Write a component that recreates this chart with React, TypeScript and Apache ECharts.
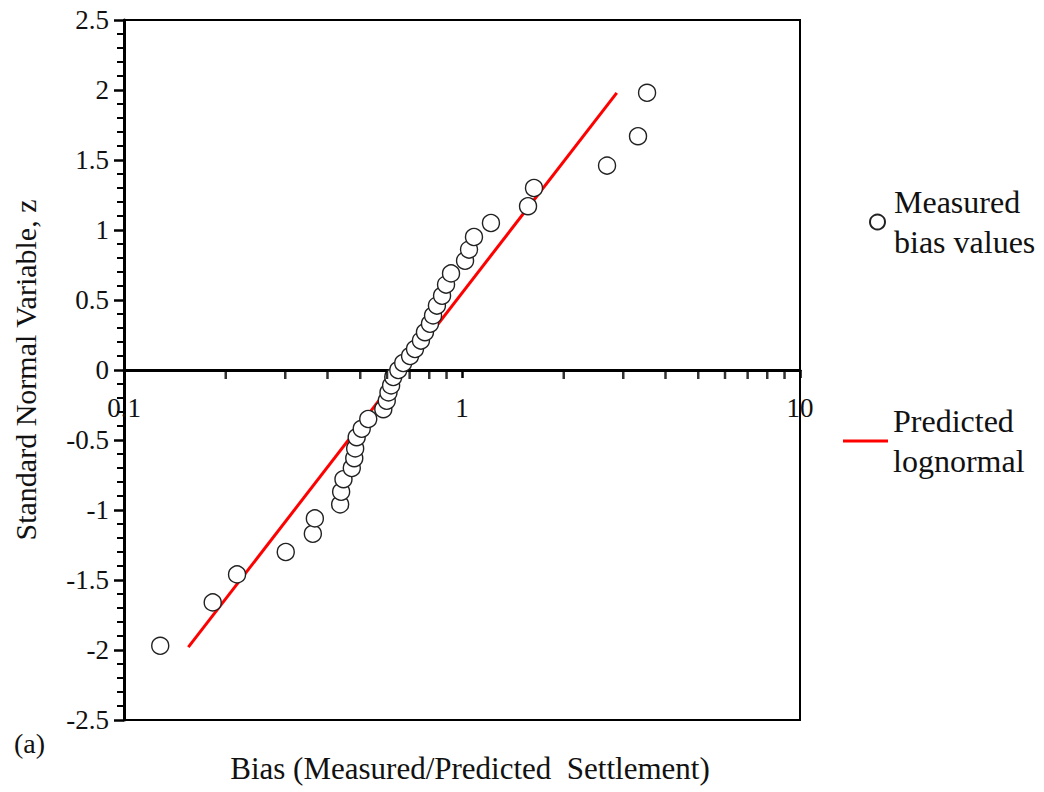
import React, { useEffect, useRef } from "react";
import * as echarts from "echarts";

// Measured bias values (x) and standard normal variable z (y)
const biasValues = [
  0.128, 0.183, 0.216, 0.301, 0.362, 0.367, 0.436, 0.439, 0.446, 0.472,
  0.480, 0.483, 0.488, 0.505, 0.528, 0.585, 0.599, 0.606, 0.617, 0.626,
  0.648, 0.670, 0.702, 0.726, 0.756, 0.777, 0.804, 0.821, 0.843, 0.873,
  0.897, 0.928, 1.021, 1.049, 1.085, 1.218, 1.568, 1.633, 2.686, 3.317,
  3.528,
];
const zValues = [
  -1.97, -1.66, -1.46, -1.30, -1.17, -1.06, -0.96, -0.87, -0.78, -0.70,
  -0.63, -0.56, -0.48, -0.42, -0.35, -0.28, -0.22, -0.16, -0.11, -0.05,
  0.0, 0.05, 0.10, 0.15, 0.21, 0.27, 0.33, 0.39, 0.46, 0.53,
  0.61, 0.69, 0.78, 0.86, 0.95, 1.05, 1.17, 1.30, 1.46, 1.67,
  1.98,
];
// Predicted lognormal line end points
const predictedBias = [0.155, 2.87];
const predictedZ = [-1.98, 1.98];
// minor tick positions on the log x axis
const xMinorTicks = [0.2, 0.3, 0.4, 0.5, 0.6, 0.7, 0.8, 0.9, 2, 3, 4, 5, 6, 7, 8, 9];

const measuredName = "Measured\nbias values";
const predictedName = "Predicted\nlognormal";
const xTitle = "Bias (Measured/Predicted  Settlement)";
const yTitle = "Standard Normal Variable, z";
const panelLabel = "(a)";

const FONT = "'Liberation Serif', 'Times New Roman', serif";

export default function App() {
  const ref = useRef<HTMLDivElement>(null);
  useEffect(() => {
    document.body.style.margin = "0";
    if (!ref.current) return;
    const chart = echarts.init(ref.current, undefined, { renderer: "svg" });
    const legendText = {
      fontFamily: FONT,
      fontSize: 32,
      lineHeight: 40,
      color: "#111",
      padding: [40, 0, 0, 0],
    };
    chart.setOption({
      animation: false,
      backgroundColor: "#ffffff",
      textStyle: { fontFamily: FONT },
      title: {
        text: panelLabel,
        left: 14,
        top: 729,
        padding: 0,
        textStyle: { fontFamily: FONT, fontSize: 28, fontWeight: "normal", color: "#111" },
      },
      grid: {
        left: 124,
        top: 20,
        right: 244,
        bottom: 72,
        show: true,
        borderColor: "#000",
        borderWidth: 2,
        backgroundColor: "transparent",
        containLabel: false,
        outerBoundsMode: "none",
      },
      legend: [
        {
          data: [measuredName],
          left: 869,
          top: 162,
          padding: 0,
          itemWidth: 15,
          itemHeight: 15,
          icon: "circle",
          textStyle: { ...legendText, padding: [40, 0, 0, 4] },
        },
        {
          data: [predictedName],
          left: 843,
          top: 381,
          padding: 0,
          itemWidth: 45,
          itemHeight: 3,
          icon: "rect",
          textStyle: legendText,
        },
      ],
      xAxis: {
        type: "log",
        logBase: 10,
        min: 0.1,
        max: 10,
        name: xTitle,
        nameLocation: "middle",
        nameGap: 33,
        nameTextStyle: { fontFamily: FONT, fontSize: 31, color: "#111", padding: [0, 0, 0, 16] },
        axisLine: { onZero: true, lineStyle: { color: "#000", width: 3 } },
        axisTick: { show: true, length: 8, lineStyle: { color: "#000", width: 2.5 } },
        axisLabel: { fontFamily: FONT, fontSize: 27, color: "#111", margin: -326 },
        splitLine: { show: false },
        minorTick: { show: false },
      },
      yAxis: {
        type: "value",
        min: -2.5,
        max: 2.5,
        interval: 0.5,
        name: yTitle,
        nameLocation: "middle",
        nameGap: 84,
        nameTextStyle: { fontFamily: FONT, fontSize: 30, color: "#111" },
        axisLine: { show: true, onZero: false, lineStyle: { color: "#000", width: 3 } },
        axisTick: { show: true, length: 10, lineStyle: { color: "#000", width: 2.5 } },
        minorTick: { show: true, splitNumber: 5, length: 7, lineStyle: { color: "#000", width: 2 } },
        axisLabel: { fontFamily: FONT, fontSize: 27, color: "#111", margin: 15 },
        splitLine: { show: false },
      },
      series: [
        {
          name: predictedName,
          type: "line",
          data: predictedBias.map((b, i) => [b, predictedZ[i]]),
          symbol: "none",
          lineStyle: { color: "#ff0000", width: 3 },
          itemStyle: { color: "#ff0000" },
          z: 2,
        },
        {
          name: measuredName,
          type: "scatter",
          data: biasValues.map((b, i) => [b, zValues[i]]),
          symbol: "circle",
          symbolSize: 17,
          itemStyle: { color: "#ffffff", borderColor: "#222", borderWidth: 1.4, opacity: 1 },
          z: 3,
        },
        {
          name: "xMinorTicks",
          type: "scatter",
          data: xMinorTicks.map((v) => [v, 0]),
          symbol: "rect",
          symbolSize: [2.5, 8],
          symbolOffset: [0, 5],
          itemStyle: { color: "#000" },
          silent: true,
          z: 4,
        },
      ],
    });
    return () => chart.dispose();
  }, []);
  return <div ref={ref} style={{ width: 1044, height: 792 }} />;
}
